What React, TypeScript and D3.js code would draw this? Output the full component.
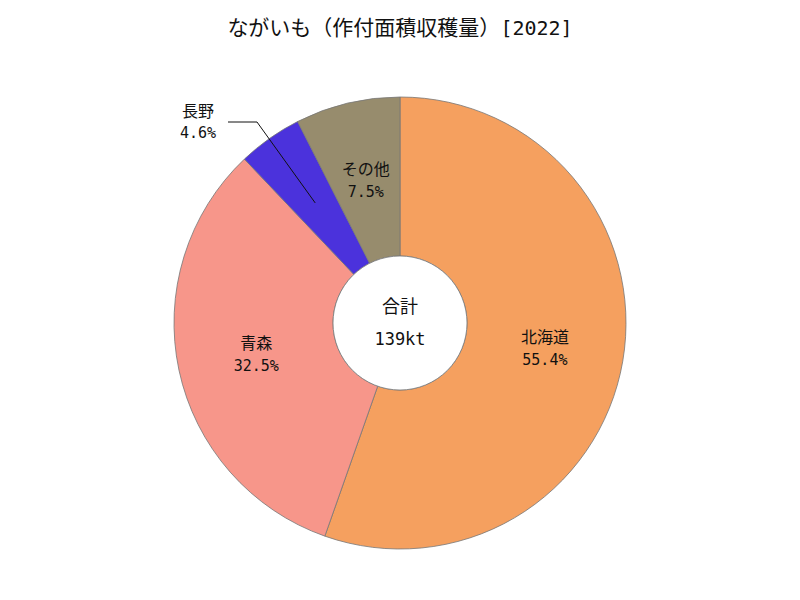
import React from "react";
import * as d3 from "d3";

const categories = ["北海道", "青森", "長野", "その他"];
const values = [77.0, 45.2, 6.4, 10.4];
const colors = ["#F5A05F", "#F7968A", "#4B32DC", "#978C6D"];
const titleMain = "ながいも（作付面積収穫量）";
const titleYear = "[2022]";
const centerLabel = "合計";
const totalLabel = "139kt";

export default function App() {
  const W = 800, H = 600;
  const cx = 400, cy = 323;
  const outerR = 226, innerR = 67, labelR = 147;
  const total = d3.sum(values);
  const pie = d3.pie<number>().sort(null).startAngle(0).endAngle(2 * Math.PI)(values);
  const arc = d3.arc<d3.PieArcDatum<number>>().innerRadius(innerR).outerRadius(outerR);
  const font = "'Noto Sans CJK JP', sans-serif";
  const mono = "'DejaVu Sans Mono', monospace";
  return (
    <svg width={W} height={H} style={{ position: "absolute", left: 0, top: 0 }} fontFamily={font}>
      <rect width={W} height={H} fill="#fff" />
      <text x={400} y={35} textAnchor="middle" fontSize={21} fill="#111">
        {titleMain}
        <tspan fontFamily={mono} fontSize={20}>{titleYear}</tspan>
      </text>
      <g transform={`translate(${cx},${cy})`}>
        {pie.map((p, i) => (
          <path key={i} d={arc(p) || ""} fill={colors[i]} stroke="#777" strokeWidth={0.8} />
        ))}
        {pie.map((p, i) => {
          const a = (p.startAngle + p.endAngle) / 2;
          const x = labelR * Math.sin(a);
          const y = -labelR * Math.cos(a);
          const pct = ((values[i] / total) * 100).toFixed(1) + "%";
          if (categories[i] === "長野") {
            const lx = -172, ly = -201;
            return (
              <g key={i}>
                <polyline points={`${lx},${ly} ${lx + 29},${ly} ${x},${y}`} fill="none" stroke="#111" strokeWidth={1} />
                <text x={lx - 30} y={ly - 5} textAnchor="middle" fontSize={16} fill="#111">{categories[i]}</text>
                <text x={lx - 30} y={ly + 16} textAnchor="middle" fontSize={15} fontFamily={mono} fill="#111">{pct}</text>
              </g>
            );
          }
          return (
            <g key={i}>
              <text x={x} y={y - 5} textAnchor="middle" fontSize={16} fill="#111">{categories[i]}</text>
              <text x={x} y={y + 17} textAnchor="middle" fontSize={15} fontFamily={mono} fill="#111">{pct}</text>
            </g>
          );
        })}
        <circle r={innerR} fill="#fff" stroke="#777" strokeWidth={0.8} />
        <text x={0} y={-10} textAnchor="middle" fontSize={18} fill="#111">{centerLabel}</text>
        <text x={0} y={22} textAnchor="middle" fontSize={17} fontFamily={mono} fill="#111">{totalLabel}</text>
      </g>
    </svg>
  );
}
